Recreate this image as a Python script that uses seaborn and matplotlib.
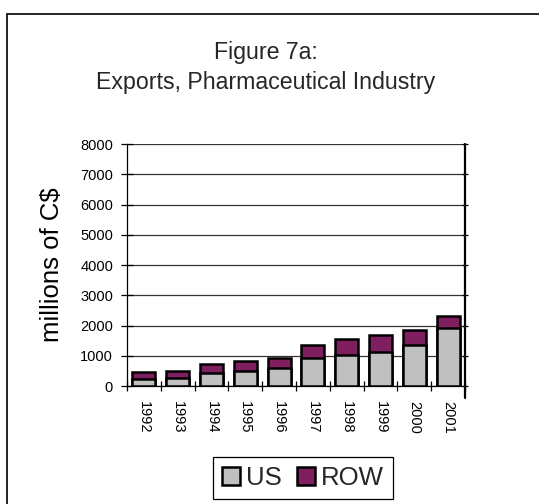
import matplotlib
matplotlib.use("Agg")
import matplotlib.pyplot as plt
import seaborn as sns
import pandas as pd
from matplotlib.patches import Patch, Rectangle
from matplotlib.lines import Line2D
from matplotlib.ticker import FixedLocator, MultipleLocator

years = ["1992", "1993", "1994", "1995", "1996", "1997", "1998", "1999", "2000", "2001"]
us = [220, 250, 420, 495, 605, 915, 1020, 1120, 1340, 1915]
row = [230, 255, 295, 330, 320, 430, 540, 550, 515, 385]
series_names = ["US", "ROW"]
title_lines = ["Figure 7a:", "Exports, Pharmaceutical Industry"]
y_label = "millions of C$"

US_COLOR = "#C0C0C0"
ROW_COLOR = "#801F5F"

sns.set_theme(style="white")
plt.rcParams["font.family"] = ["Liberation Sans", "DejaVu Sans"]

df = pd.DataFrame({"year": years, "US": us, "ROW": row})
df["total"] = df["US"] + df["ROW"]

W, H = 539, 504
fig = plt.figure(figsize=(W / 100, H / 100), dpi=100)
ax = fig.add_axes([127 / W, 1 - 386 / H, (465 - 127) / W, (386 - 144) / H])

sns.barplot(data=df, x="year", y="total", color=ROW_COLOR, saturation=1,
            edgecolor="black", linewidth=1.8, width=0.68, ax=ax)
sns.barplot(data=df, x="year", y="US", color=US_COLOR, saturation=1,
            edgecolor="black", linewidth=1.8, width=0.68, ax=ax)

ax.set_xlim(-0.5, len(years) - 0.5)
ax.set_ylim(0, 8000)
ax.yaxis.set_major_locator(MultipleLocator(1000))
ax.set_axisbelow(True)
ax.yaxis.grid(True, color="#333333", linewidth=0.9)
ax.xaxis.grid(False)

ax.set_xlabel("")
ax.set_ylabel(y_label, fontsize=18.5, color="black")
ax.yaxis.set_label_coords(-0.186, 0.5)

ax.tick_params(axis="y", which="major", direction="inout", length=9, width=0.9,
               labelsize=10.5, labelcolor="black", color="black", pad=5.5, left=True)
ax.tick_params(axis="y", which="major", right=True)
for t in ax.yaxis.get_major_ticks():
    t.tick2line.set_markersize(4)
    t.tick2line.set_color("#333333")
ax.xaxis.set_minor_locator(FixedLocator([i - 0.5 for i in range(len(years) + 1)]))
ax.tick_params(axis="x", which="major", length=0, labelsize=10.5, labelcolor="black",
               pad=10.5, labelrotation=270)
ax.tick_params(axis="x", which="minor", direction="inout", length=6.5, width=0.9,
               color="black", bottom=True)
for lab in ax.get_xticklabels():
    lab.set_va("top")
    lab.set_ha("center")

for s in ["left", "bottom"]:
    ax.spines[s].set_color("black")
    ax.spines[s].set_linewidth(0.9)
ax.spines["top"].set_visible(False)
ax.spines["right"].set_visible(False)
# right vertical axis line extending below zero
ax.add_line(Line2D([len(years) - 0.5, len(years) - 0.5], [-400, 8000],
                   color="black", linewidth=1.6, clip_on=False))

# title
fig.text(266 / W, 1 - 59 / H, title_lines[0], ha="center", va="baseline", fontsize=16.7)
fig.text(266 / W, 1 - 88.5 / H, title_lines[1], ha="center", va="baseline", fontsize=16.7)

# legend
handles = [Patch(facecolor=US_COLOR, edgecolor="black", linewidth=1.8),
           Patch(facecolor=ROW_COLOR, edgecolor="black", linewidth=1.8)]
leg = fig.legend(handles, series_names, loc="center", ncol=2,
                 bbox_to_anchor=(303 / W, 1 - 478 / H), fontsize=18.5,
                 frameon=True, fancybox=False, shadow=False,
                 handlelength=0.7, handleheight=0.7, handletextpad=0.26,
                 columnspacing=0.56, borderpad=0.35, borderaxespad=0)
leg.get_frame().set_edgecolor("black")
leg.get_frame().set_linewidth(0.9)
leg.get_frame().set_alpha(1)

# outer chart border (top and left visible)
fig.add_artist(Rectangle((7 / W, -0.1), 1.2, 0.1 + (1 - 14 / H), transform=fig.transFigure,
                         fill=False, edgecolor="black", linewidth=1.2))

fig.savefig("out.png", dpi=100, facecolor="white")
